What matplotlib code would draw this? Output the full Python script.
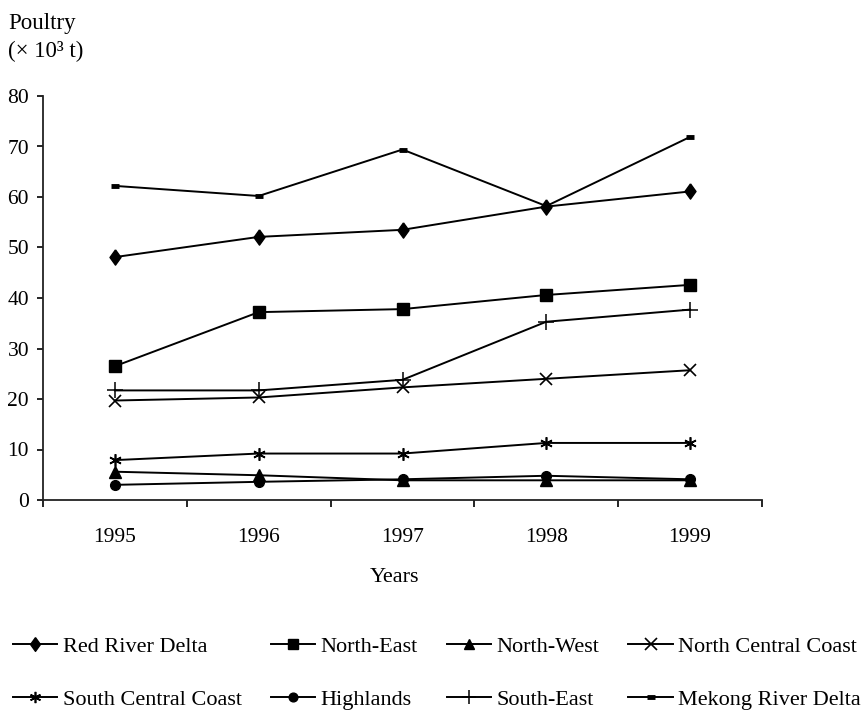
import numpy as np
import matplotlib
matplotlib.use("Agg")
import matplotlib.pyplot as plt

plt.rcParams['font.family'] = ['Liberation Serif', 'DejaVu Serif']

############## - Data - ##################
years = ['1995', '1996', '1997', '1998', '1999']

red_river_delta = [48.1, 52.1, 53.5, 58.1, 61.1]
north_east = [26.5, 37.2, 37.8, 40.6, 42.6]
north_west = [5.6, 4.9, 3.9, 3.9, 3.9]
north_central_coast = [19.7, 20.3, 22.3, 24.0, 25.7]
south_central_coast = [7.9, 9.2, 9.2, 11.3, 11.3]
highlands = [3.0, 3.6, 4.1, 4.8, 4.1]
south_east = [21.7, 21.7, 23.8, 35.3, 37.7]
mekong_river_delta = [62.2, 60.2, 69.4, 58.2, 71.9]

diamond = [(0, 1), (0.72, 0), (0, -1), (-0.72, 0), (0, 1)]

series = [
    ('Red River Delta', red_river_delta, dict(marker=diamond, ms=11)),
    ('North-East', north_east, dict(marker='s', ms=8)),
    ('North-West', north_west, dict(marker='^', ms=8)),
    ('North Central Coast', north_central_coast, dict(marker='x', ms=9, mew=1.2)),
    ('South Central Coast', south_central_coast, dict(marker=(6, 2, 0), ms=9, mew=1.2)),
    ('Highlands', highlands, dict(marker='o', ms=7)),
    ('South-East', south_east, dict(marker='+', ms=11, mew=1.1)),
    ('Mekong River Delta', mekong_river_delta, dict(marker='_', ms=6, mew=3.5)),
]

############## - Plot - ##################
W, H = 868, 718
fig = plt.figure(figsize=(W / 100, H / 100), dpi=100)
ax = fig.add_axes([43 / W, 1 - 500 / H, 719 / W, 404 / H])

x = np.arange(len(years))
lines = []
for name, vals, style in series:
    ln, = ax.plot(x, vals, color='black', lw=1.4, mfc='black', mec='black',
                  label=name, **style)
    lines.append(ln)

ax.set_xlim(-0.5, len(years) - 0.5)
ax.set_ylim(0, 80)
ax.set_yticks(np.arange(0, 81, 10))
ax.set_xticks(x)
ax.set_xticklabels(years)
ax.set_xticks(np.arange(-0.5, len(years) + 0.5, 1), minor=True)
ax.tick_params(axis='x', which='major', length=0, pad=20, labelsize=15.5)
ax.tick_params(axis='x', which='minor', length=5, width=1.2, direction='out')
ax.tick_params(axis='y', length=4, width=1.2, direction='out', pad=6, labelsize=15.5)

for s in ['top', 'right']:
    ax.spines[s].set_visible(False)
for s in ['left', 'bottom']:
    ax.spines[s].set_linewidth(1.3)
    ax.spines[s].set_color('#222222')

fig.text(8 / W, 1 - 29 / H, 'Poultry', fontsize=16.5, va='baseline', ha='left')
fig.text(8 / W, 1 - 57 / H, '(× 10³ t)', fontsize=16.5, va='baseline', ha='left')
fig.text(395 / W, 1 - 578 / H, 'Years', fontsize=16, va='center', ha='center')

# legend fills column by column, so reorder to read row by row (2 rows x 4 cols)
order = [0, 4, 1, 5, 2, 6, 3, 7]
handles = [lines[i] for i in order]
labels = [series[i][0] for i in order]
fig.legend(handles, labels, loc='upper left', bbox_to_anchor=(6 / W, 1 - 630 / H),
           ncol=4, frameon=False, fontsize=16, handlelength=2.0, handletextpad=0.25,
           columnspacing=1.3, labelspacing=1.45, borderaxespad=0, borderpad=0.3,
           markerscale=0.9)

fig.savefig('out.png', dpi=100)
